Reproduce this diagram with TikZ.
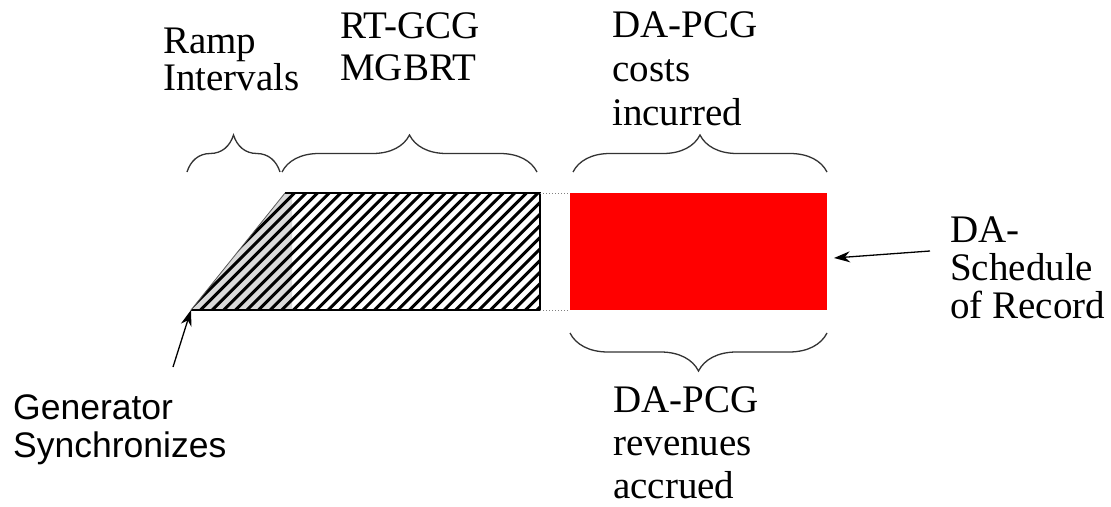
\documentclass[tikz,border=0pt]{standalone}
\usepackage{fontspec}
\setmainfont{Liberation Serif}
\newfontfamily\gensans{Liberation Sans}
\usetikzlibrary{decorations.pathreplacing,arrows.meta}
\tikzset{brc/.style={decorate,decoration={brace,amplitude=#1},line width=1.3pt,draw=black!80}}
\tikzset{lbl/.style={anchor=base west,align=left,inner sep=0pt,font=\fontsize{39}{#1}\selectfont}}
\tikzset{hatch/.style={line width=3pt}}
\tikzset{ptr/.style={-{Stealth[length=16pt,width=11pt]},line width=1.3pt}}

\begin{document}
\begin{tikzpicture}[x=1pt,y=-1pt]
\useasboundingbox (0,0) rectangle (1111,506);

\coordinate (syn) at (191,310);
\coordinate (rt) at (285,193);
\coordinate (ne) at (540,193);
\coordinate (se) at (540,310);
\coordinate (pcgnw) at (570,193);
\coordinate (pcgsw) at (570,310);
\coordinate (pcgse) at (827,310);

% ramp and MGBRT block
\fill[gray!30] (syn) -- (rt) -- (292,193) -- (292,310) -- cycle;
\begin{scope}
\clip (syn) -- (rt) -- (ne) -- (se) -- cycle;
\foreach \x in {0,...,41}{
  \draw[hatch] ({73+11.6*\x},310) -- ++(117,-117);
}
\end{scope}
\draw[line width=1.6pt] (rt) -- (ne) -- (se) -- (syn);
\draw[gray!70!black,line width=0.8pt] (syn) -- (rt);

\draw[gray,dotted,line width=1pt] (ne) -- (pcgnw);
\draw[gray,dotted,line width=1pt] (se) -- (pcgsw);

% DA-PCG block
\fill[red] (pcgnw) rectangle (pcgse);

\draw[brc=37pt] (187,172) -- (280,172);
\draw[brc=37pt] (282,172) -- (537,172);
\draw[brc=37pt] (573,172) -- (827,172);
\draw[brc=38pt] (827,333) -- (570,333);

% anchors sit on the last baseline
\node[lbl=35] (ramp) at (163,90) {Ramp\\Intervals};
\node[lbl=42] (rtgcg) at (340,80) {RT-GCG\\MGBRT};
\node[lbl=44] (cost) at (612,125) {DA-PCG\\costs\\incurred};
\node[lbl=43] (rev) at (613,498) {DA-PCG\\revenues\\accrued};
\node[lbl=38] (sor) at (950,318) {DA-\\Schedule\\of Record};
\node[anchor=base west,align=left,inner sep=0pt,font=\gensans\fontsize{35.5}{38}\selectfont] (gen) at (13,457) {Generator\\Synchronizes};

\coordinate (gentail) at (173,367);
\coordinate (sortail) at (930,251);
\coordinate (sorhead) at (834,258);
\draw[ptr] (gentail) -- (syn);
\draw[ptr] (sortail) -- (sorhead);

\end{tikzpicture}
\end{document}
